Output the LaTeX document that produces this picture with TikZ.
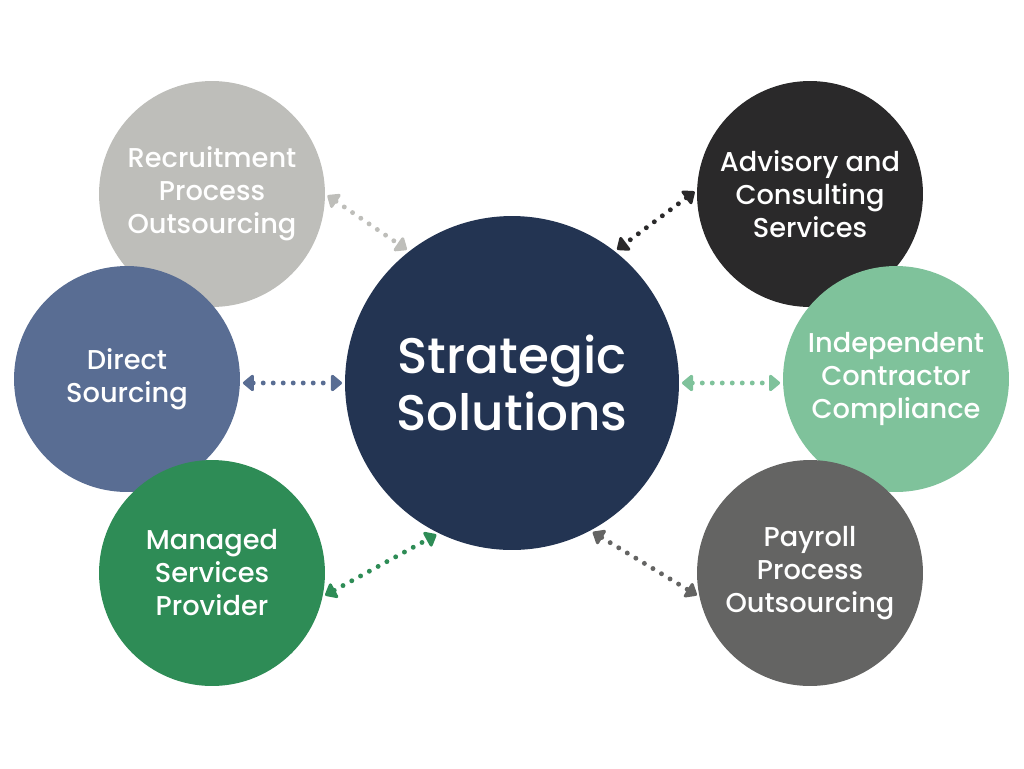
\documentclass[tikz,border=0pt]{standalone}
\usepackage{fontspec}
\setmainfont{Poppins}[UprightFont=* Medium]
\usetikzlibrary{arrows.meta}

\definecolor{navy}{HTML}{233452}
\definecolor{rpogray}{HTML}{BEBEBA}
\definecolor{dsblue}{HTML}{596D93}
\definecolor{mspgreen}{HTML}{2E8C56}
\definecolor{acsblack}{HTML}{2A292A}
\definecolor{iccgreen}{HTML}{7FC29B}
\definecolor{ppogray}{HTML}{646463}

\begin{document}
\begin{tikzpicture}[x=0.02cm, y=-0.02cm,
    sat/.style={circle, fill=#1, text=white, minimum size=4.52cm, inner sep=0pt,
      align=center, font=\fontsize{15.5}{18.8}\selectfont},
    link/.style={draw=#1, line width=2.8pt, line cap=round,
      dash pattern=on 0pt off 0.2cm, shorten <=1.5pt, shorten >=1.5pt,
      {Triangle[round, length=0.24cm, width=0.38cm]}-{Triangle[round, length=0.24cm, width=0.38cm]}}]
  \useasboundingbox (0,0) rectangle (1024,768);

  \node[circle, fill=navy, text=white, minimum size=6.68cm, inner sep=0pt, align=center,
    font=\fontsize{28.5}{32}\selectfont] (SS) at (512,383) {Strategic\\Solutions};

  \node[sat=rpogray] (RPO) at (212,194) {Recruitment\\Process\\Outsourcing};
  \node[sat=dsblue] (DS) at (127,379) {Direct\\Sourcing};
  \node[sat=mspgreen] (MSP) at (212,573) {Managed\\Services\\Provider};
  \node[sat=acsblack] (ACS) at (810,194) {Advisory and\\Consulting\\Services};
  \node[sat=iccgreen] (ICC) at (896,379) {Independent\\Contractor\\Compliance};
  \node[sat=ppogray] (PPO) at (810,573) {Payroll\\Process\\Outsourcing};

  \draw (RPO.0) edge[link=rpogray] (SS.128);
  \draw (DS.-2) edge[link=dsblue] (SS.180);
  \draw (MSP.-12) edge[link=mspgreen] (SS.244);
  \draw (ACS.178) edge[link=acsblack] (SS.52);
  \draw (SS.0) edge[link=iccgreen] (ICC.182);
  \draw (SS.298) edge[link=ppogray] (PPO.192);
\end{tikzpicture}
\end{document}
